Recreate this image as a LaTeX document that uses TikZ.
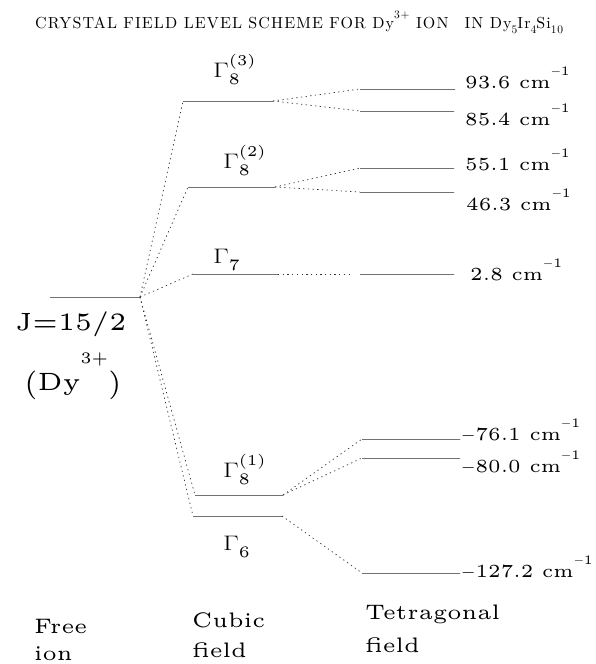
\documentclass[tikz,border=0pt]{standalone}
\usepackage{fix-cm}
\usepackage{fontspec}
\usetikzlibrary{positioning}

\newfontfamily\plotfont{lmroman5-regular.otf}
\newfontfamily\titlefont[LetterSpace=7]{lmroman10-regular.otf}
\newcommand{\up}[1]{\raisebox{0.6em}{\fontsize{11.5}{11.5}\selectfont #1}}
\newcommand{\dn}[1]{\raisebox{-0.35em}{\fontsize{11.5}{11.5}\selectfont #1}}
\newcommand{\invcm}{cm\raisebox{0.7em}{\fontsize{13}{13}\selectfont$-$1}}
\newcommand{\gam}[2]{\scalebox{1.3}[1]{\fontsize{21}{21}\selectfont$\Gamma$}%
  \rlap{\raisebox{-7pt}{\fontsize{16}{16}\selectfont #1}}%
  \raisebox{12pt}{\fontsize{15}{15}\selectfont #2}}

\begin{document}
\begin{tikzpicture}[
    x=1pt, y=-1pt,
    level/.style={draw=black!85, line width=0.9pt, inner sep=0pt, outer sep=0pt,
      minimum height=0pt},
    link/.style={black!80, line width=0.7pt, dash pattern=on 1.3pt off 3.4pt},
    energy/.style={font=\plotfont\fontsize{18.5}{21}\selectfont, inner sep=0pt,
      anchor=base west},
    gam/.style={font=\plotfont, inner sep=0pt, anchor=base west},
    fieldlab/.style={font=\plotfont\fontsize{21}{28}\selectfont, align=left,
      inner sep=0pt, anchor=base west}
  ]
  \useasboundingbox (0,0) rectangle (595,664);

  \node[anchor=base west, inner sep=0pt, font=\titlefont\fontsize{16}{19}\selectfont]
    (title) at (35,28)
    {CRYSTAL FIELD LEVEL SCHEME FOR Dy\up{3+} ION\quad IN Dy\dn{5}Ir\dn{4}Si\dn{10}};

  % free ion
  \node[level, minimum width=90pt] (free) at (95,297) {};
  \node[anchor=base west, inner sep=0pt, font=\plotfont\fontsize{25}{28}\selectfont]
    (jlab) at (15,330) {J=15/2};
  \node[anchor=base west, inner sep=0pt, font=\plotfont\fontsize{25}{30}\selectfont]
    (ionlab) at (24,390)
    {\raisebox{-0.08em}{\scalebox{1}[1.15]{(}}Dy\raisebox{1.05em}{\fontsize{16}{16}\selectfont 3+}\raisebox{-0.08em}{\scalebox{1}[1.15]{)}}};

  % cubic field
  \node[level, minimum width=90pt] (c8c) at (228,101) {};
  \node[level, minimum width=87pt] (c8b) at (231.5,187) {};
  \node[level, minimum width=85pt] (c7) at (235.5,274) {};
  \node[level, minimum width=88pt] (c8a) at (239,495) {};
  \node[level, minimum width=89pt] (c6) at (237.5,516) {};

  \node[gam] (g8c) at (213,77) {\gam{8}{(3)}};
  \node[gam] (g8b) at (223,168) {\gam{8}{(2)}};
  \node[gam] (g7) at (213,263) {\gam{7}{}};
  \node[gam] (g8a) at (223,477) {\gam{8}{(1)}};
  \node[gam] (g6) at (223,550) {\gam{6}{}};

  % tetragonal field
  \node[level, minimum width=95pt] (t936) at (407.5,89) {};
  \node[level, minimum width=94pt] (t854) at (407,111) {};
  \node[level, minimum width=94pt] (t551) at (407,168) {};
  \node[level, minimum width=94pt] (t463) at (407,192) {};
  \node[level, minimum width=94pt] (t28) at (407,274) {};
  \node[level, minimum width=98pt] (t761) at (411,439) {};
  \node[level, minimum width=98pt] (t800) at (411,458) {};
  \node[level, minimum width=98pt] (t1272) at (411,573) {};

  \node[energy] (e936) at (465,88) {93.6 \invcm};
  \node[energy] (e854) at (465,125) {85.4 \invcm};
  \node[energy] (e551) at (465,170) {55.1 \invcm};
  \node[energy] (e463) at (466,210) {46.3 \invcm};
  \node[energy] (e28) at (470,280) {2.8 \invcm};
  \node[energy] (e761) at (461,440) {$-$76.1 \invcm};
  \node[energy] (e800) at (461,472) {$-$80.0 \invcm};
  \node[energy] (e1272) at (461,577) {$-$127.2 \invcm};

  % splitting
  \foreach \c in {c8c,c8b,c7,c8a,c6}
    \draw[link] (free.east) -- (\c.west);
  \draw[link] (c8c.east) -- (t936.west);
  \draw[link] (c8c.east) -- (t854.west);
  \draw[link] (c8b.east) -- (t551.west);
  \draw[link] (c8b.east) -- (t463.west);
  \draw[link, shorten >=10pt] (c7.east) -- (t28.west);
  \draw[link] (c8a.east) -- (t761.west);
  \draw[link] (c8a.east) -- (t800.west);
  \draw[link] (c6.east) -- (t1272.west);

  % axis captions
  \node[fieldlab] (freelab) at (34,660) {Free\\[-1pt]ion};
  \node[fieldlab] (cubiclab) at (192,657) {Cubic\\[2pt]field};
  \node[fieldlab] (tetlab) at (365,652) {Tetragonal\\[5pt]field};
\end{tikzpicture}
\end{document}
